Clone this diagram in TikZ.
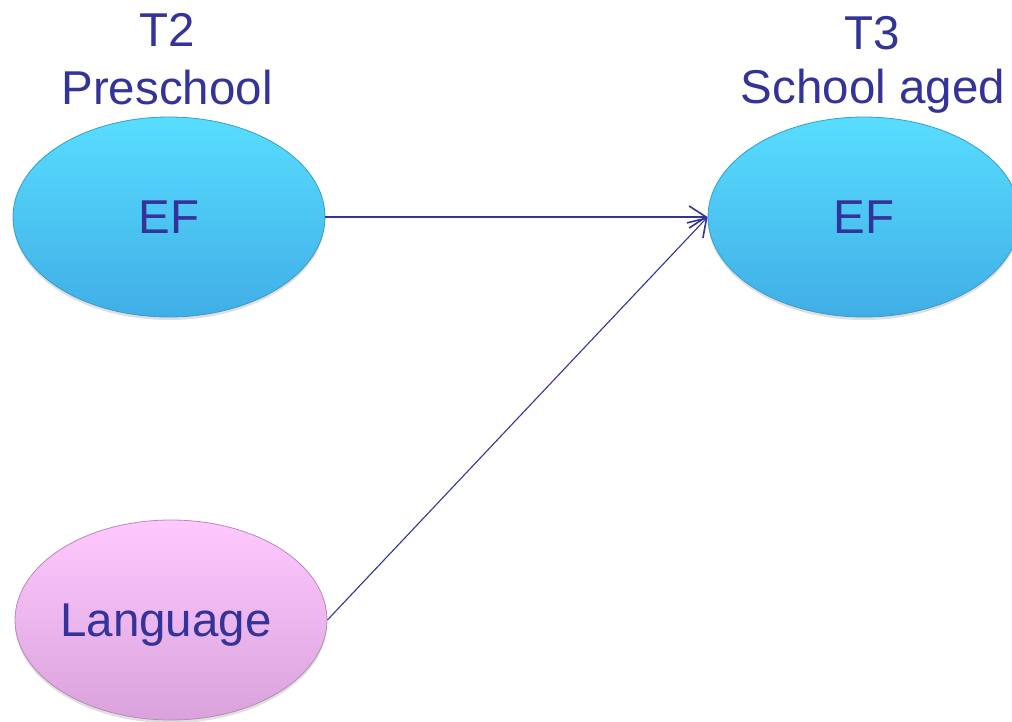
\documentclass[tikz,border=0pt]{standalone}
\usepackage{fontspec}
\setmainfont{Liberation Sans}
\usetikzlibrary{shapes.geometric,arrows.meta,shadows}
\definecolor{ink}{HTML}{333399}
\definecolor{cyanTop}{HTML}{58DDFF}
\definecolor{cyanBot}{HTML}{40AEE6}
\definecolor{cyanEdge}{HTML}{3A9CC8}
\definecolor{pinkTop}{HTML}{FFC9FF}
\definecolor{pinkBot}{HTML}{D9A2DC}
\definecolor{pinkEdge}{HTML}{B78AB8}
\tikzset{
  bigtext/.style={font=\fontsize{47.5}{56}\selectfont, text=ink},
  blob/.style={ellipse, minimum width=312pt, minimum height=200pt, inner sep=0pt,
    bigtext, text depth=0pt, line width=0.8pt,
    drop shadow={opacity=0.25, shadow xshift=0pt, shadow yshift=-3pt}},
  efblob/.style={blob, draw=cyanEdge, top color=cyanTop, bottom color=cyanBot},
  langblob/.style={blob, draw=pinkEdge, top color=pinkTop, bottom color=pinkBot},
  heading/.style={bigtext, align=center, inner sep=0pt},
  link/.style={draw=ink, line width=1.1pt, -{Straight Barb[length=17pt, width=22pt, line width=1.6pt]}}
}
\begin{document}
\begin{tikzpicture}[x=1pt, y=-1pt]
  \useasboundingbox (0,0) rectangle (1012,721);
  \clip (0,0) rectangle (1012,721);
  % time-point headings
  \node[heading] (t2) at (167,30) {T2};
  \node[heading] (pre) at (167,88) {Preschool};
  \node[heading] (t3) at (872,33) {T3};
  \node[heading] (sch) at (873,91) {School aged};
  % constructs
  \node[efblob] (ef2) at (169,217) {EF};
  \node[efblob] (ef3) at (864,217) {EF};
  \node[langblob] (lang) at (171,620) {\hspace*{-10pt}Language};
  % paths
  \draw[link] (ef2.east) -- (ef3.west);
  \draw[link] (lang.east) -- (ef3.west);
\end{tikzpicture}
\end{document}
